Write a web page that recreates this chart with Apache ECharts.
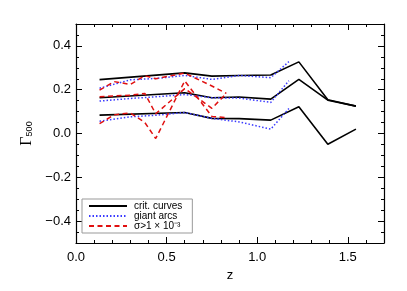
<!DOCTYPE html>
<html><head><meta charset="utf-8">
<script src="https://cdn.jsdelivr.net/npm/echarts@6/dist/echarts.min.js"></script>
<style>html,body{margin:0;padding:0;background:#fff}#c{width:407px;height:291px}</style>
</head><body><div id="c"></div>
<script>
const zCrit = [0.13, 0.6, 0.75, 0.9, 1.075, 1.23, 1.39, 1.545];
const critHi = [0.246, 0.277, 0.262, 0.265, 0.267, 0.327, 0.154, 0.125];
const critMid = [0.163, 0.186, 0.163, 0.167, 0.157, 0.247, 0.152, 0.125];
const critLo = [0.084, 0.096, 0.069, 0.068, 0.061, 0.122, -0.049, 0.02];

const zArcs = [0.13, 0.3, 0.45, 0.6, 0.75, 0.9, 1.075, 1.175];
const arcsHi = [0.207, 0.245, 0.252, 0.265, 0.247, 0.265, 0.255, 0.328];
const arcsMid = [0.148, 0.16, 0.168, 0.178, 0.163, 0.162, 0.142, 0.241];
const arcsLo = [0.056, 0.076, 0.084, 0.096, 0.069, 0.053, 0.02, 0.114];

const zSigma = [0.13, 0.21, 0.30, 0.38, 0.44, 0.60, 0.75, 0.83];
const sigHi = [0.198, 0.237, 0.224, 0.264, 0.25, 0.276, 0.217, 0.183];
const sigMid = [0.168, 0.172, 0.175, 0.183, 0.09, 0.205, 0.115, 0.183];
const sigLo = [0.045, 0.085, 0.094, 0.05, -0.023, 0.24, 0.078, 0.072];

const xMajor = [0, 0.5, 1.0, 1.5];
const yMajor = [-0.4, -0.2, 0, 0.2, 0.4];

const names = ['crit. curves', 'giant arcs', 'σ>1 × 10⁻³'];
const FONT = 'Liberation Sans';

function pairs(xs, ys) { return xs.map((x, i) => [x, ys[i]]); }
function mk(name, xs, ys, color, type, w) {
  return { name, type: 'line', data: pairs(xs, ys), symbol: 'none', showSymbol: false,
    xAxisIndex: 0, yAxisIndex: 0,
    lineStyle: { color, width: w, type }, itemStyle: { color }, animation: false, z: 3 };
}
const black = '#000', blue = '#3a3aff', red = '#e01010';
const series = [
  mk(names[0], zCrit, critHi, black, 'solid', 1.6),
  mk(names[0], zCrit, critMid, black, 'solid', 1.6),
  mk(names[0], zCrit, critLo, black, 'solid', 1.6),
  mk(names[1], zArcs, arcsHi, blue, [1.5, 2], 1.5),
  mk(names[1], zArcs, arcsMid, blue, [1.5, 2], 1.5),
  mk(names[1], zArcs, arcsLo, blue, [1.5, 2], 1.5),
  mk(names[2], zSigma, sigHi, red, [5, 3.5], 1.5),
  mk(names[2], zSigma, sigMid, red, [5, 3.5], 1.5),
  mk(names[2], zSigma, sigLo, red, [5, 3.5], 1.5)
];

function axLine(major) {
  return { show: major, onZero: false, lineStyle: { color: '#000', width: 1.2 } };
}
function xAx(grid, pos, major, showLabel) {
  const a = { type: 'value', gridIndex: grid, position: pos, min: 0, max: 1.7, splitLine: { show: false },
    axisLine: axLine(major),
    axisTick: { show: true, inside: true, length: major ? 6 : 3, lineStyle: { color: '#000', width: 1 } },
    axisLabel: { show: showLabel, color: '#000', fontFamily: FONT, fontSize: 13, margin: 8,
      formatter: v => v.toFixed(1) } };
  if (major) { a.axisTick.customValues = xMajor; a.axisLabel.customValues = xMajor; }
  else { a.interval = 0.1; }
  if (showLabel) { a.name = 'z'; a.nameLocation = 'middle'; a.nameGap = 26;
    a.nameTextStyle = { color: '#000', fontFamily: FONT, fontSize: 13 }; }
  return a;
}
function yAx(grid, pos, major, showLabel) {
  const a = { type: 'value', gridIndex: grid, position: pos, min: -0.5, max: 0.5, splitLine: { show: false },
    axisLine: axLine(major),
    axisTick: { show: true, inside: true, length: major ? 6 : 3, lineStyle: { color: '#000', width: 1 } },
    axisLabel: { show: showLabel, color: '#000', fontFamily: FONT, fontSize: 13, margin: 5,
      formatter: v => (v < 0 ? '−' : '') + Math.abs(v).toFixed(1) } };
  if (major) { a.axisTick.customValues = yMajor; a.axisLabel.customValues = yMajor; }
  else { a.interval = 0.05; }
  if (showLabel) {
    a.name = '{g|Γ}{s|500}'; a.nameLocation = 'middle'; a.nameGap = 40; a.nameRotate = 90;
    a.nameTextStyle = { color: '#000', rich: {
      g: { fontFamily: 'Liberation Serif', fontSize: 16, color: '#000' },
      s: { fontFamily: FONT, fontSize: 9, color: '#000', padding: [7, 0, 0, 0] } } };
  }
  return a;
}

const g = { left: 76, right: 23, top: 24, bottom: 48, containLabel: false };
const chart = echarts.init(document.getElementById('c'), null, { renderer: 'canvas' });
chart.setOption({
  animation: false,
  backgroundColor: '#fff',
  grid: [Object.assign({}, g), Object.assign({}, g)],
  xAxis: [xAx(0, 'bottom', true, true), xAx(0, 'top', true, false),
          xAx(1, 'bottom', false, false), xAx(1, 'top', false, false)],
  yAxis: [yAx(0, 'left', true, true), yAx(0, 'right', true, false),
          yAx(1, 'left', false, false), yAx(1, 'right', false, false)],
  legend: { show: true, orient: 'vertical', left: 82, top: 199,
    data: names, backgroundColor: '#fff', borderColor: '#999', borderWidth: 1, borderRadius: 0,
    padding: [2, 10, 2, 6], itemWidth: 38, itemHeight: 8, itemGap: 0,
    itemStyle: { opacity: 0 },
    textStyle: { color: '#000', fontFamily: FONT, fontSize: 10, lineHeight: 10, padding: [0, 0, 0, 2] } },
  series
});
</script></body></html>
